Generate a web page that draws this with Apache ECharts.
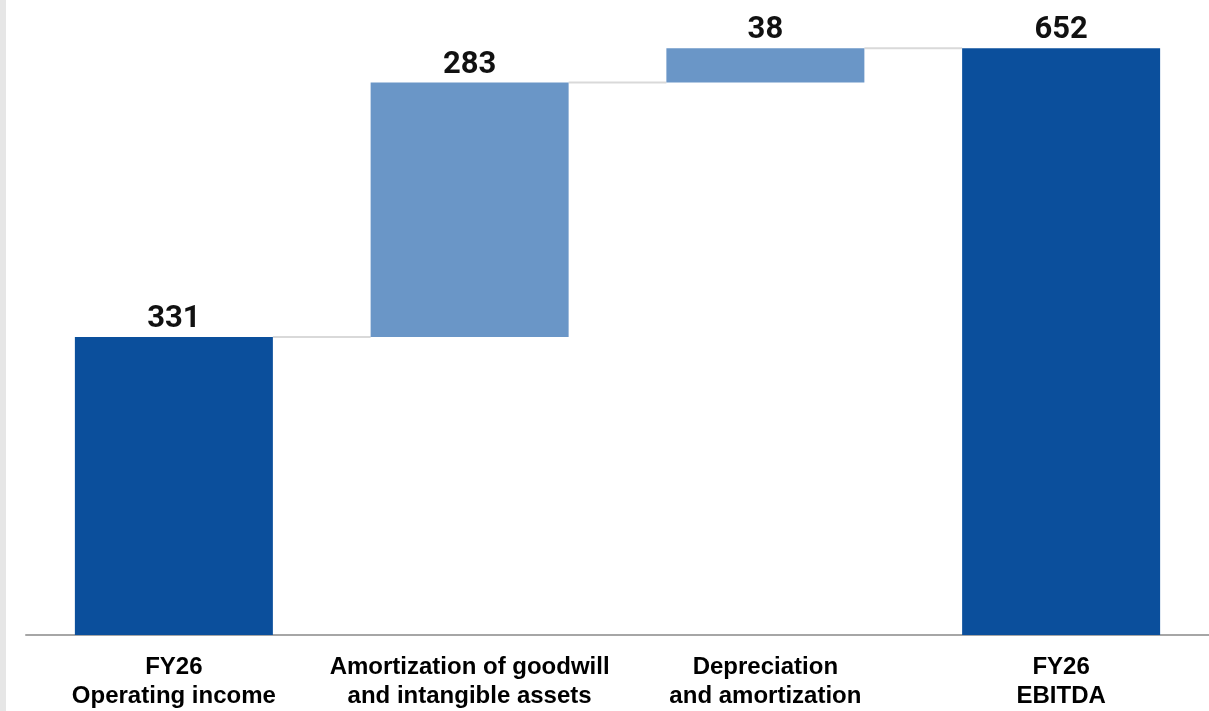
<!DOCTYPE html>
<html lang="en">
<head>
    <meta charset="UTF-8">
    <title>FY26 EBITDA bridge</title>
    <style>
        html, body { margin: 0; padding: 0; background: #fff; }
        #chart { width: 1209px; height: 711px; }
    </style>
</head>
<body>
<div id="chart"></div>
<script src="https://cdn.jsdelivr.net/npm/echarts@6/dist/echarts.min.js"></script>
<script>
    var categories = ['FY26\nOperating income', 'Amortization of goodwill\nand intangible assets', 'Depreciation\nand amortization', 'FY26\nEBITDA'];
    var values = [331, 283, 38, 652];
    var isTotal = [true, false, false, true];

    var darkBlue = '#0b4f9c';
    var lightBlue = '#6a96c7';

    // invisible base + visible step, computed from the values
    var bases = [];
    var tops = [];
    var running = 0;
    for (var i = 0; i < values.length; i++) {
        if (isTotal[i]) {
            bases.push(0);
            running = values[i];
        } else {
            bases.push(running);
            running += values[i];
        }
        tops.push(running);
    }

    var chart = echarts.init(document.getElementById('chart'));
    var option = {
        animation: false,
        graphic: [{
            type: 'rect',
            left: 0, top: 0,
            shape: { width: 6, height: 711 },
            style: { fill: '#e6e6e6' },
            silent: true
        }],
        grid: { left: 26, right: -4, top: 5, bottom: 75 },
        xAxis: {
            type: 'category',
            data: categories,
            axisTick: { show: false },
            axisLine: { lineStyle: { color: '#a6a6a6', width: 2 } },
            axisLabel: {
                color: '#000',
                fontFamily: 'Liberation Sans',
                fontWeight: 'bold',
                fontSize: 24,
                lineHeight: 29,
                margin: 18,
                interval: 0
            }
        },
        yAxis: {
            type: 'value',
            min: 0,
            max: 700,
            show: false,
            splitLine: { show: false }
        },
        series: [
            {
                type: 'bar',
                stack: 'w',
                data: bases,
                barWidth: 198,
                itemStyle: { color: 'transparent' },
                silent: true
            },
            {
                type: 'bar',
                stack: 'w',
                barWidth: 198,
                data: values.map(function (v, i) {
                    return { value: v, itemStyle: { color: isTotal[i] ? darkBlue : lightBlue } };
                }),
                label: {
                    show: true,
                    position: 'top',
                    distance: 2,
                    color: '#111',
                    fontFamily: 'Roboto',
                    fontWeight: 'bold',
                    fontSize: 31
                }
            },
            {
                type: 'custom',
                data: tops.slice(0, -1).map(function (t, i) { return [i, t]; }),
                renderItem: function (params, api) {
                    var i = api.value(0);
                    var p1 = api.coord([i, api.value(1)]);
                    var p2 = api.coord([i + 1, api.value(1)]);
                    return {
                        type: 'line',
                        shape: { x1: p1[0] + 99, y1: p1[1], x2: p2[0] - 99, y2: p2[1] },
                        style: { stroke: '#d9d9d9', lineWidth: 2 }
                    };
                },
                silent: true,
                z: 1
            }
        ]
    };
    chart.setOption(option);
</script>
</body>
</html>
